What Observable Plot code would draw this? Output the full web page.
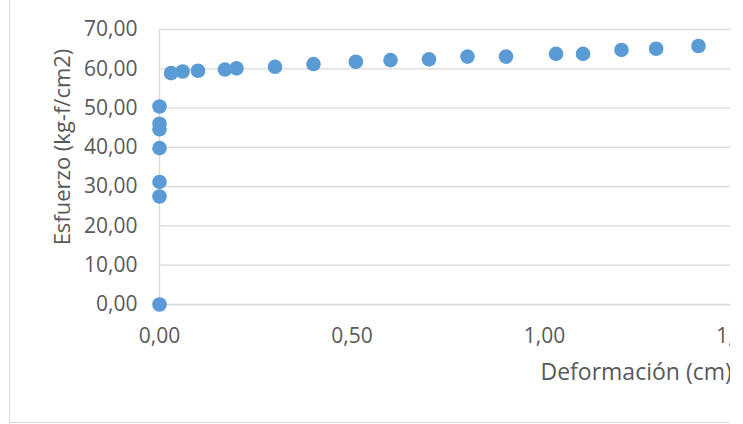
<!DOCTYPE html>
<html>
<head>
<meta charset="utf-8">
<script src="https://cdn.jsdelivr.net/npm/d3@7"></script>
<script src="https://cdn.jsdelivr.net/npm/@observablehq/plot@0.6"></script>
<style>
  html, body { margin: 0; padding: 0; background: #fff; }
  #wrap { position: relative; width: 730px; height: 424px; overflow: hidden; background: #fff; }
  #frame { position: absolute; left: 8.5px; top: -6px; width: 800px; height: 429px; border: 1px solid #d9d9d9; box-sizing: border-box; }
  #chart { position: absolute; left: 0; top: 0; width: 760px; height: 424px; }
  #chart svg { max-width: none !important; width: 760px !important; height: 424px !important; }
</style>
</head>
<body>
<div id="wrap"><div id="frame"></div><div id="chart"></div></div>
<script>
// Deformación (cm)
const deformacion = [0, 0, 0, 0, 0, 0, 0,
  0.03, 0.06, 0.10, 0.17, 0.20, 0.30, 0.40, 0.51, 0.60, 0.70, 0.80, 0.90, 1.03, 1.10, 1.20, 1.29, 1.40];
// Esfuerzo (kg-f/cm2)
const esfuerzo = [0, 27.5, 31.2, 39.8, 44.6, 46.0, 50.4,
  58.9, 59.3, 59.5, 59.8, 60.1, 60.5, 61.2, 61.8, 62.2, 62.4, 63.1, 63.1, 63.8, 63.8, 64.8, 65.1, 65.8];
const xTicks = [0, 0.5, 1.0, 1.5];
const yTicks = [0, 10, 20, 30, 40, 50, 60, 70];
const xTitle = "Deformación (cm)";
const yTitle = "Esfuerzo (kg-f/cm2)";

const data = deformacion.map((d, i) => ({x: d, y: esfuerzo[i]}));
const fmt = d => d.toFixed(2).replace(".", ",");
const textColor = "#595959";
const gridColor = "#d9d9d9";

const chart = Plot.plot({
  width: 760,
  height: 424,
  marginLeft: 159,
  marginRight: 23.5,
  marginTop: 29,
  marginBottom: 120,
  style: {fontFamily: "Open Sans", fontSize: "21px", color: textColor, background: "transparent", overflow: "visible"},
  x: {domain: [0, 1.5], ticks: xTicks},
  y: {domain: [0, 70], ticks: yTicks},
  marks: [
    Plot.gridY(yTicks, {stroke: gridColor, strokeOpacity: 1, strokeWidth: 1.3}),
    Plot.ruleX([0], {stroke: gridColor, strokeWidth: 1.3}),
    Plot.axisY({ticks: yTicks, tickSize: 0, tickPadding: 22, tickFormat: fmt, label: null, fill: textColor}),
    Plot.axisX({ticks: xTicks, tickSize: 0, tickPadding: 24, tickFormat: fmt, label: null, fill: textColor}),
    Plot.text([yTitle], {frameAnchor: "left", rotate: -90, dx: -97, dy: -20, fill: textColor, textAnchor: "middle", lineAnchor: "middle", fontSize: 22}),
    Plot.text([xTitle], {frameAnchor: "bottom-left", textAnchor: "start", lineAnchor: "middle", dx: 381, dy: 68, fill: textColor, fontSize: 23}),
    Plot.dot(data, {x: "x", y: "y", r: 7.3, fill: "#5B9BD5", stroke: "none"})
  ]
});
document.getElementById("chart").appendChild(chart);
</script>
</body>
</html>
